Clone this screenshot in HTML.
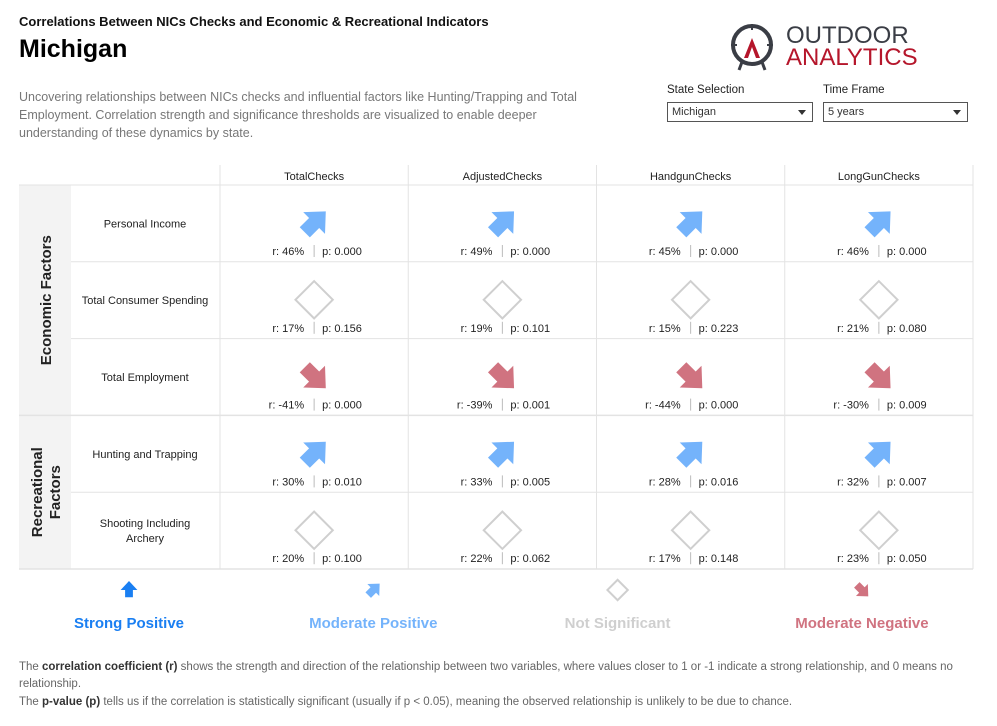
<!DOCTYPE html>
<html><head><meta charset="utf-8"><style>
body{margin:0;width:997px;height:726px;background:#fff;font-family:"Liberation Sans",sans-serif;position:relative;overflow:hidden;color:#222}
.abs{position:absolute}
.dd{position:absolute;top:102px;border:1px solid #555;font-size:11px;line-height:18px;padding-left:4px;box-sizing:border-box;height:20px;color:#333}
.dd:after{content:"";position:absolute;right:6px;top:7px;border-left:4px solid transparent;border-right:4px solid transparent;border-top:5px solid #333}
.foot{font-size:11.5px;color:#666;left:19px;width:950px;line-height:17px}
.foot b{color:#333}
</style></head><body>
<div class="abs" style="left:19px;top:14px;font-size:13px;font-weight:bold;color:#111">Correlations Between NICs Checks and Economic &amp; Recreational Indicators</div>
<div class="abs" style="left:19px;top:35px;font-size:25px;font-weight:bold;color:#000">Michigan</div>
<div class="abs" style="left:19px;top:88px;width:600px;font-size:12.5px;line-height:18px;color:#777">Uncovering relationships between NICs checks and influential factors like Hunting/Trapping and Total Employment. Correlation strength and significance thresholds are visualized to enable deeper understanding of these dynamics by state.</div>

<svg class="abs" style="left:728px;top:18px" width="190" height="60">
<circle cx="24" cy="27" r="19" fill="none" stroke="#3a3d45" stroke-width="4"/>
<line x1="24" y1="6" x2="24" y2="12" stroke="#3a3d45" stroke-width="2"/>
<line x1="3" y1="27" x2="9" y2="27" stroke="#3a3d45" stroke-width="2"/>
<line x1="39" y1="27" x2="45" y2="27" stroke="#3a3d45" stroke-width="2"/>
<line x1="14" y1="44" x2="11" y2="52" stroke="#3a3d45" stroke-width="3"/>
<line x1="34" y1="44" x2="37" y2="52" stroke="#3a3d45" stroke-width="3"/>
<polygon points="24,20 32,40 28,40 24,29 20,40 16,40" fill="#b5162b"/>
<text x="58" y="25" font-size="24" fill="#3a3d45" font-family="Liberation Sans">OUTDOOR</text>
<text x="58" y="47" font-size="24" fill="#b5162b" font-family="Liberation Sans">ANALYTICS</text>
</svg>

<div class="abs" style="left:667px;top:84px;font-size:11.5px">State Selection</div>
<div class="dd" style="left:667px;width:146px">Michigan</div>
<div class="abs" style="left:823px;top:84px;font-size:11.5px">Time Frame</div>
<div class="dd" style="left:823px;width:145px">5 years</div>

<svg id="grid" class="abs" style="left:0;top:0" width="997" height="726"></svg>

<div class="abs foot" style="top:659px">The <b>correlation coefficient (r)</b> shows the strength and direction of the relationship between two variables, where values closer to 1 or -1 indicate a strong relationship, and 0 means no relationship.</div>
<div class="abs foot" style="top:694px">The <b>p-value (p)</b> tells us if the correlation is statistically significant (usually if p &lt; 0.05), meaning the observed relationship is unlikely to be due to chance.</div>

<script>
const columns=["TotalChecks","AdjustedChecks","HandgunChecks","LongGunChecks"];
const rowLabels=[["Personal Income"],["Total Consumer Spending"],["Total Employment"],["Hunting and Trapping"],["Shooting Including","Archery"]];
const groups=[{name:["Economic Factors"],start:0,end:3},{name:["Recreational","Factors"],start:3,end:5}];
const rValues=[[46,49,45,46],[17,19,15,21],[-41,-39,-44,-30],[30,33,28,32],[20,22,17,23]];
const pValues=[[0.000,0.000,0.000,0.000],[0.156,0.101,0.223,0.080],[0.000,0.001,0.000,0.009],[0.010,0.005,0.016,0.007],[0.100,0.062,0.148,0.050]];
const legendItems=["Strong Positive","Moderate Positive","Not Significant","Moderate Negative"];

const NS="http://www.w3.org/2000/svg";
const svg=document.getElementById('grid');
const colors={sp:"#1a7ff2",mp:"#74b3fb",ns:"#cfcfcf",mn:"#d07380",sn:"#c0392b"};
const X0=19,XL=71,XD=220,XR=973,Y0=165,YH=185,RH=76.8;
const colW=(XR-XD)/columns.length;
const xCol=i=>XD+i*colW;
const yRow=j=>YH+j*RH;
function el(t,a,p){const e=document.createElementNS(NS,t);for(const k in a)e.setAttribute(k,a[k]);(p||svg).appendChild(e);return e;}
function txt(x,y,s,a){const e=el('text',Object.assign({x:x,y:y,'font-family':'Liberation Sans, sans-serif','text-anchor':'middle'},a||{}));e.textContent=s;return e;}
function category(r,p){if(p>=0.05)return'ns';if(r>=50)return'sp';if(r>0)return'mp';if(r<=-50)return'sn';return'mn';}
function icon(cx,cy,cat,s){
  const g=el('g',{});
  if(cat==='ns'){el('rect',{x:cx-12*s,y:cy-12*s,width:24*s,height:24*s,fill:'none',stroke:colors.ns,'stroke-width':2,transform:`rotate(45 ${cx} ${cy})`},g);return g;}
  const rot=cat==='sp'?0:cat==='mp'?45:135;
  const pts=[[0,-15],[14,0],[6.5,0],[6.5,12],[-6.5,12],[-6.5,0],[-14,0]].map(q=>(cx+q[0]*s)+','+(cy+q[1]*s)).join(' ');
  el('polygon',{points:pts,fill:colors[cat],transform:`rotate(${rot} ${cx} ${cy})`},g);
  return g;
}
el('rect',{x:X0,y:YH,width:XL-X0,height:5*RH,fill:'#f3f3f3'});
el('line',{x1:X0,y1:YH,x2:XR,y2:YH,stroke:'#e3e3e3'});
for(let j=0;j<rowLabels.length;j++){
  const y=yRow(j+1);
  const isGroupEnd=groups.some(g=>g.end===j+1);
  el('line',{x1:isGroupEnd?X0:XL,y1:y,x2:XR,y2:y,stroke:'#e3e3e3','stroke-width':isGroupEnd?1.5:1});
}
for(let i=0;i<=columns.length;i++){el('line',{x1:xCol(i),y1:Y0,x2:xCol(i),y2:yRow(5),stroke:'#e3e3e3'});}
columns.forEach((c,i)=>{const t=txt(xCol(i)+colW/2,180,c,{'font-size':11,fill:'#222'});

});
groups.forEach((g,gi)=>{
  const cy=(yRow(g.start)+yRow(g.end))/2;
  const n=g.name.length;
  g.name.forEach((s,k)=>{const x=45+(k-(n-1)/2)*18+6;
    const t=txt(x,cy,s,{'font-size':15,'font-weight':'bold',fill:'#222',transform:`rotate(-90 ${x} ${cy})`});
    
    });
});
rowLabels.forEach((lines,j)=>{
  const cy=yRow(j)+RH/2;
  lines.forEach((s,k)=>{const t=txt(145,cy+4+(k-(lines.length-1)/2)*15,s,{'font-size':11,fill:'#222'});
  
  });
});
rValues.forEach((row,j)=>row.forEach((r,i)=>{
  const p=pValues[j][i];const cat=category(r,p);
  const cx=xCol(i)+colW/2,top=yRow(j);
  const g=icon(cx,top+38,cat,1.1);
  
  
  const t1=txt(cx-10,top+70,'r: '+r+'%',{'font-size':11,fill:'#222','text-anchor':'end'});
  
  
  el('line',{x1:cx,y1:top+60,x2:cx,y2:top+72,stroke:'#bbb'});
  const t2=txt(cx+8,top+70,'p: '+p.toFixed(3),{'font-size':11,fill:'#222','text-anchor':'start'});
  
  
}));
const legCats=['sp','mp','ns','mn'];
legendItems.forEach((s,k)=>{
  const cx=129+k*244.3;
  const g=icon(cx,590,legCats[k],0.6);
  
  
  const t=txt(cx,628,s,{'font-size':15,'font-weight':'bold',fill:colors[legCats[k]]});
  
  
});
</script>
</body></html>
